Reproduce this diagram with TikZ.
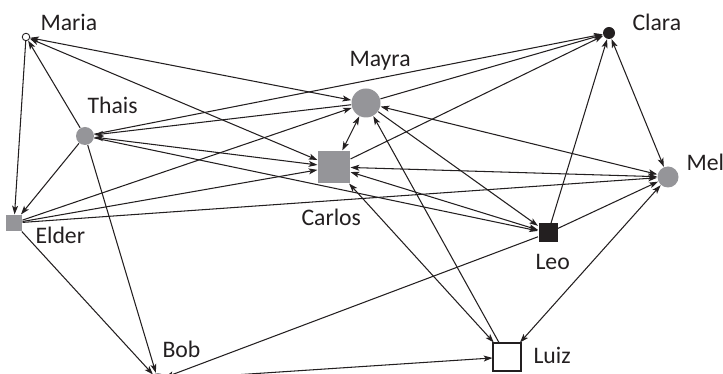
\documentclass[tikz,border=0pt]{standalone}
\usepackage{fontspec}
\setmainfont{Carlito}
\usetikzlibrary{arrows.meta}
\definecolor{netgray}{RGB}{149,149,153}
\definecolor{ink}{RGB}{35,31,32}
\begin{document}
\begin{tikzpicture}[x=0.02cm, y=-0.02cm, line width=0.6pt, ink,
    >={Stealth[length=5pt, width=3.4pt, inset=1.2pt]},
    circ/.style={circle, inner sep=0pt},
    sq/.style={rectangle, inner sep=0pt},
    lbl/.style={anchor=base west, inner sep=0pt, text=ink, font=\fontsize{13.5}{16}\selectfont}]
    \useasboundingbox (0,0) rectangle (723,374);
    % people
    \node (maria) [circ, draw, fill=white, minimum size=0.15cm, line width=0.5pt] at (26,37) {};
    \node (clara) [circ, fill=ink, minimum size=0.24cm] at (609,33) {};
    \node (mayra) [circ, fill=netgray, minimum size=0.58cm] at (366,103) {};
    \node (thais) [circ, fill=netgray, minimum size=0.36cm] at (85,136) {};
    \node (carlos) [sq, fill=netgray, minimum size=0.64cm] at (334,167) {};
    \node (mel) [circ, fill=netgray, minimum size=0.42cm] at (668,177) {};
    \node (elder) [sq, fill=netgray, minimum size=0.32cm] at (14,223) {};
    \node (leo) [sq, fill=ink, minimum size=0.38cm] at (548,233) {};
    \node (luiz) [sq, draw, fill=white, minimum size=0.56cm] at (507,357) {};
    \node (bob) [circ, fill=netgray, minimum size=0.28cm] at (158,380) {};
    % names
    \node (maria-l) [lbl] at (40,31) {Maria};
    \node (clara-l) [lbl] at (632,31) {Clara};
    \node (mayra-l) [lbl] at (349,67) {Mayra};
    \node (thais-l) [lbl] at (87,114) {Thais};
    \node (carlos-l) [lbl] at (301,226) {Carlos};
    \node (mel-l) [lbl] at (686,171) {Mel};
    \node (elder-l) [lbl] at (35,244) {Elder};
    \node (leo-l) [lbl] at (535,270) {Leo};
    \node (bob-l) [lbl] at (162,358) {Bob};
    \node (luiz-l) [lbl] at (533,364) {Luiz};
    % ties
    \draw[->] (maria) -- (elder);
    \draw[->] (thais) -- (maria);
    \draw[<->] (maria) -- (mayra);
    \draw[<->] (maria) -- (carlos);
    \draw[->] (thais) -- (clara);
    \draw[->] (mayra) -- (thais);
    \draw[->] (mayra) -- (clara);
    \draw[->] (carlos) -- (clara);
    \draw[->] (leo) -- (clara);
    \draw[<->] (clara) -- (mel);
    \draw[<->] (mayra) -- (mel);
    \draw[<->] (mayra) -- (carlos);
    \draw[<->] (thais) -- (carlos);
    \draw[->] (thais) -- (elder);
    \draw[->] (thais) -- (bob);
    \draw[->] (thais) -- (leo);
    \draw[->] (elder) -- (bob);
    \draw[->] (elder) -- (mayra);
    \draw[->] (elder) -- (carlos);
    \draw[->] (elder) -- (mel);
    \draw[->] (bob) -- (luiz);
    \draw[->] (leo) -- (bob);
    \draw[->] (leo) -- (mel);
    \draw[<->] (luiz) -- (mel);
    \draw[->] (mayra) -- (leo);
    \draw[->] (luiz) -- (mayra);
    \draw[<->] (carlos) -- (luiz);
    \draw[<->] (carlos) -- (mel);
    \draw[<->] (carlos) -- (leo);
\end{tikzpicture}
\end{document}
